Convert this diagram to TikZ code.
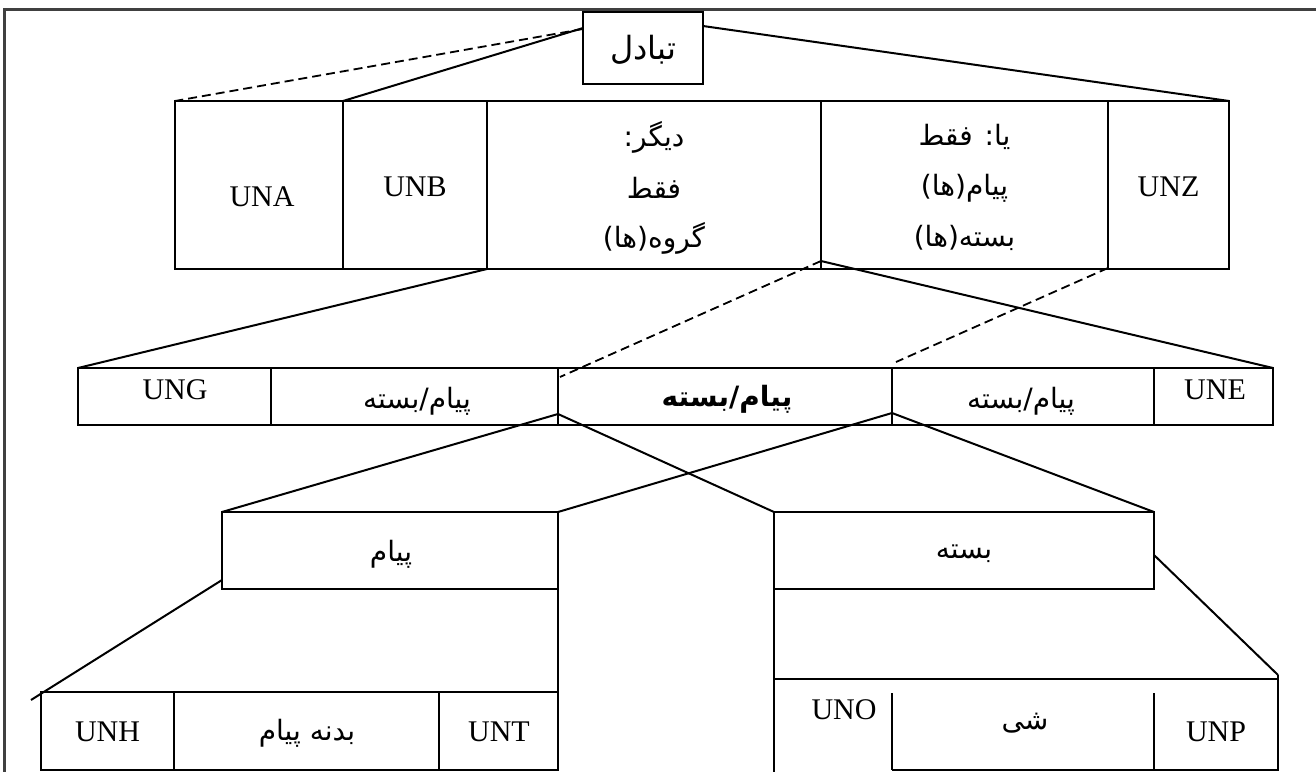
\documentclass[tikz,border=0pt]{standalone}
\usepackage{fontspec}
\setmainfont{Liberation Serif}
\newfontfamily\fa[Script=Arabic]{DejaVu Sans}
\TeXXeTstate=1
\newcommand{\rtl}[1]{{\fa\beginR #1\endR}}
\begin{document}
\begin{tikzpicture}[x=1pt,y=-1pt,
  cellbox/.style={draw=black, line width=1.3pt, inner sep=0pt, outer sep=0pt},
  lat/.style={font=\fontsize{30}{30}\selectfont, inner sep=0pt},
  per/.style={font=\fa\fontsize{28}{28}\selectfont, inner sep=0pt},
  perb/.style={font=\fa\bfseries\fontsize{28}{28}\selectfont, inner sep=0pt},
  link/.style={line width=2pt},
  dlink/.style={line width=1.8pt, dash pattern=on 9pt off 5pt},
  stem/.style={line width=2.8pt},
  frame/.style={line width=3pt, draw=black!75}]
\useasboundingbox (0,0) rectangle (1316,771);
% frame
\coordinate (fbl) at (4,775);
\coordinate (ftl) at (4,9);
\coordinate (ftr) at (1320,9);
\draw[frame] (fbl) -- (ftl) -- (ftr);
% top box
\node[cellbox, line width=2.2pt, minimum width=120pt, minimum height=72pt] (tab) at (643,48) {};
\node[per, font=\fa\fontsize{32}{32}\selectfont] (tabt) at (643,50) {\rtl{تبادل}};
% row 1
\node[cellbox, minimum width=168pt, minimum height=168pt] (una) at (259,185) {};
\node[cellbox, minimum width=144pt, minimum height=168pt] (unb) at (415,185) {};
\node[cellbox, minimum width=334pt, minimum height=168pt] (dig) at (654,185) {};
\node[cellbox, minimum width=287pt, minimum height=168pt] (ya) at (964.5,185) {};
\node[cellbox, minimum width=121pt, minimum height=168pt] (unz) at (1168.5,185) {};
\node[lat] (unat) at (262,197) {UNA};
\node[lat] (unbt) at (415,187) {UNB};
\node[per] (dig1) at (654,137) {\rtl{دیگر:}};
\node[per] (dig2) at (654,188) {\rtl{فقط}};
\node[per] (dig3) at (654,238) {\rtl{گروه(ها)}};
\node[per] (ya1) at (964.5,137) {\rtl{یا: فقط}};
\node[per] (ya2) at (964.5,188) {\rtl{پیام(ها)}};
\node[per] (ya3) at (964.5,238) {\rtl{بسته(ها)}};
\node[lat] (unzt) at (1168.5,187) {UNZ};
% row 2
\node[cellbox, minimum width=193pt, minimum height=57pt] (ung) at (174.5,396.5) {};
\node[cellbox, minimum width=287pt, minimum height=57pt] (pb1) at (414.5,396.5) {};
\node[cellbox, minimum width=334pt, minimum height=57pt] (pb2) at (725,396.5) {};
\node[cellbox, minimum width=262pt, minimum height=57pt] (pb3) at (1023,396.5) {};
\node[cellbox, minimum width=119pt, minimum height=57pt] (une) at (1213.5,396.5) {};
\node[lat] (ungt) at (175,390) {UNG};
\node[per] (pb1t) at (417,401) {\rtl{پیام/بسته}};
\node[perb] (pb2t) at (727,399) {\rtl{پیام/بسته}};
\node[per] (pb3t) at (1021,401) {\rtl{پیام/بسته}};
\node[lat] (unet) at (1215,390) {UNE};
% level 3 boxes
\node[cellbox, minimum width=336pt, minimum height=77pt] (payam) at (390,550.5) {};
\node[cellbox, minimum width=380pt, minimum height=77pt] (baste) at (964,550.5) {};
\node[per] (payamt) at (391,554) {\rtl{پیام}};
\node[per] (bastet) at (964,554) {\rtl{بسته}};
% bottom left row
\node[cellbox, minimum width=133pt, minimum height=78pt] (unh) at (107.5,731) {};
\node[cellbox, minimum width=265pt, minimum height=78pt] (body) at (306.5,731) {};
\node[cellbox, minimum width=119pt, minimum height=78pt] (unt) at (498.5,731) {};
\node[lat] (unht) at (107.5,732) {UNH};
\node[per] (bodyt) at (307,733) {\rtl{بدنه پیام}};
\node[lat] (untt) at (499,732) {UNT};
% bottom right row (open)
\coordinate (r1) at (774,679);
\coordinate (r2) at (1278,679);
\coordinate (r3) at (1278,770);
\coordinate (r4) at (892,770);
\coordinate (d1t) at (892,693);
\coordinate (d2t) at (1154,693);
\coordinate (d2b) at (1154,770);
\draw[line width=1.8pt] (r1) -- (r2);
\draw[line width=1.3pt] (r2) -- (r3) -- (r4);
\draw[line width=1.3pt] (d1t) -- (r4);
\draw[line width=1.3pt] (d2t) -- (d2b);
\node[lat] (unot) at (844,710) {UNO};
\node[per] (shit) at (1025,723) {\rtl{شی}};
\node[lat] (unpt) at (1216,732) {UNP};
% connectors from top box
\coordinate (tabL1) at (583,29);
\coordinate (tabL2) at (583,28);
\coordinate (tabR) at (703,26);
\draw[dlink] (tabL1) -- (una.north west);
\draw[link] (tabL2) -- (unb.north west);
\draw[link] (tabR) -- (unz.north east);
% row1 -> row2
\coordinate (yaA) at (821,261);
\coordinate (yaB) at (1108,268);
\coordinate (pb2top) at (560,377);
\coordinate (pb3top) at (896,362);
\draw[link] (dig.south west) -- (ung.north west);
\draw[dlink] (yaA) -- (pb2top);
\draw[link] (yaA) -- (une.north east);
\draw[dlink] (yaB) -- (pb3top);
% row2 -> level 3
\coordinate (j1) at (558,414);
\coordinate (j2) at (892,413);
\draw[link] (j1) -- (payam.north west);
\draw[link] (j1) -- (baste.north west);
\draw[link] (j2) -- (payam.north east);
\draw[link] (j2) -- (baste.north east);
% payam subtree
\coordinate (ps1) at (558,580);
\coordinate (ps2) at (558,700);
\coordinate (pd1) at (222,580);
\coordinate (pd2) at (31,700);
\draw[stem] (ps1) -- (ps2);
\draw[link] (pd1) -- (pd2);
% baste subtree
\coordinate (bs1) at (774,580);
\coordinate (bs2) at (774,772);
\coordinate (bd1) at (1154,555);
\coordinate (bd2) at (1278,675);
\coordinate (bd3) at (1278,700);
\draw[stem] (bs1) -- (bs2);
\draw[link] (bd1) -- (bd2);
\draw[stem] (bd2) -- (bd3);
\end{tikzpicture}
\end{document}
